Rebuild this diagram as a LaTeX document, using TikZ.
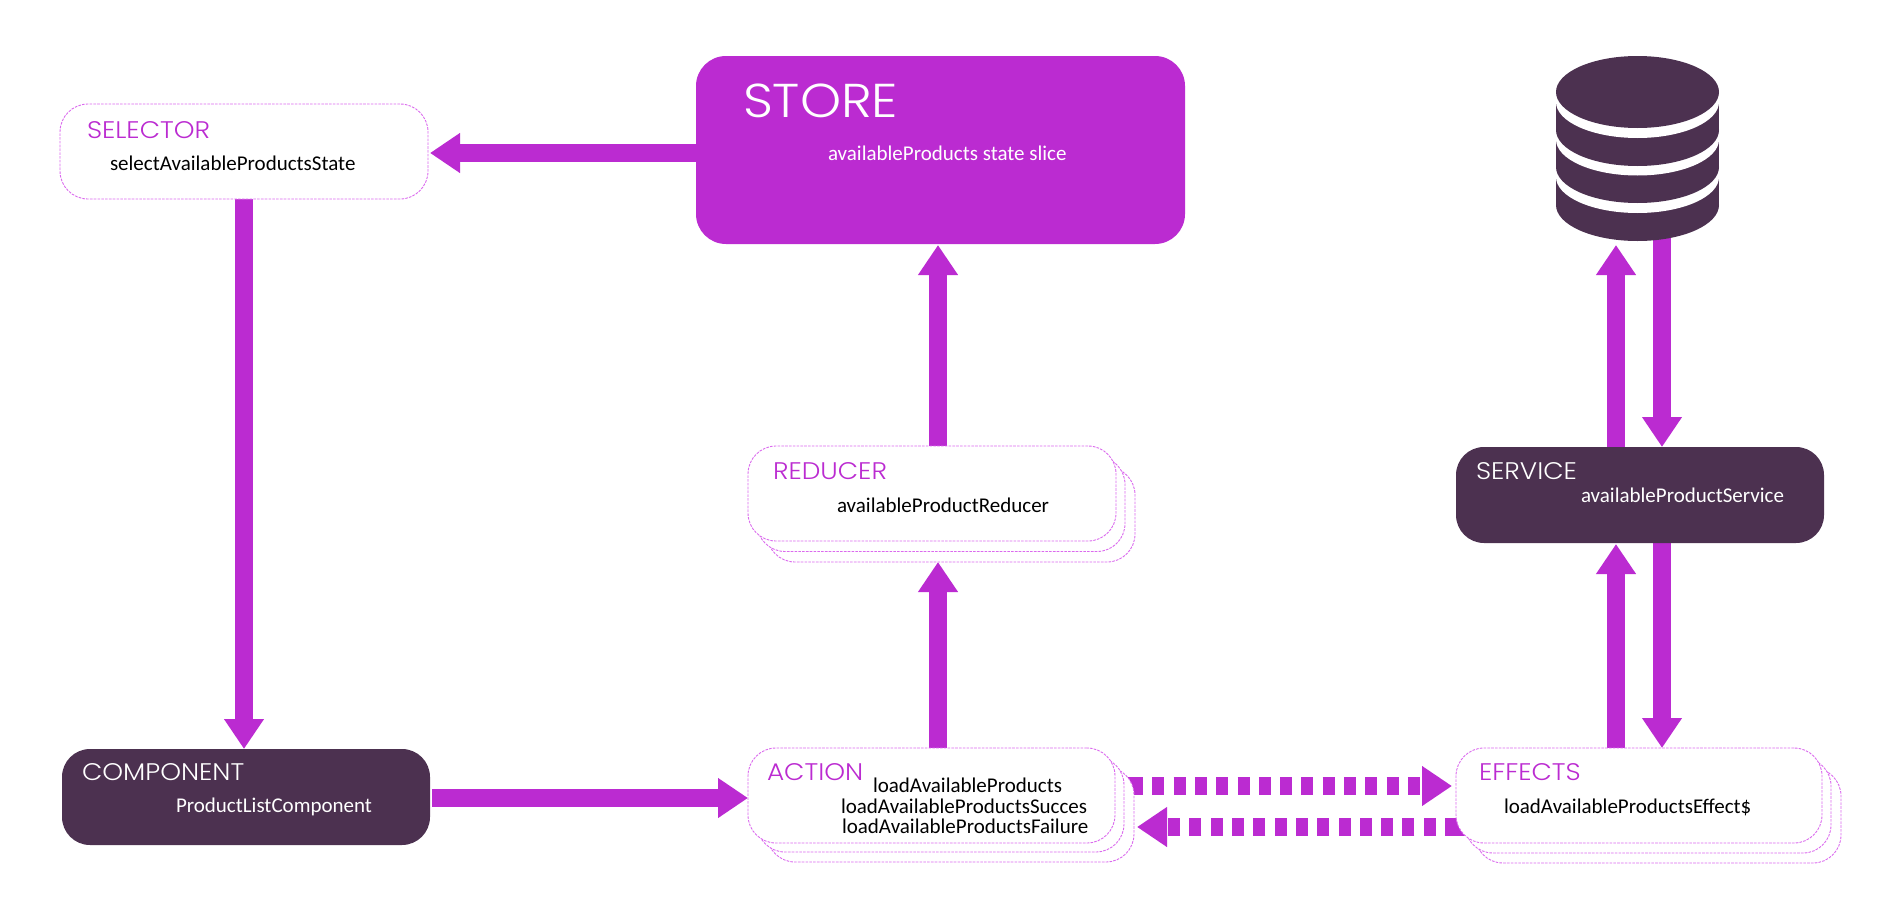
\documentclass[tikz,border=0pt]{standalone}
\usepackage{fontspec}
\usetikzlibrary{arrows.meta}
\setmainfont{Carlito}
\newfontfamily\headfont{Poppins}[UprightFont=* Light,FakeStretch=1.1]
\definecolor{magenta1}{HTML}{BB2BD1}
\definecolor{plum1}{HTML}{4C3150}
\definecolor{dashcol}{HTML}{DB6AEE}
\pgfdeclarelayer{bg}
\pgfsetlayers{bg,main}
\tikzset{
  x=1pt,y=-1pt,
  boxbase/.style={rectangle,rounded corners=28pt,inner sep=0pt,outer sep=0pt,minimum width=368pt,minimum height=95pt},
  dashbox/.style={boxbase,draw=dashcol,fill=white,line width=0.9pt,dash pattern=on 2.6pt off 1.2pt},
  plumbox/.style={boxbase,fill=plum1},
  storebox/.style={boxbase,fill=magenta1,minimum width=489pt,minimum height=188pt,rounded corners=30pt},
  headlbl/.style={anchor=base west,inner sep=0pt,outer sep=0pt,text=magenta1,font=\headfont\fontsize{24}{27}\selectfont},
  headw/.style={headlbl,text=white},
  bodylbl/.style={anchor=base west,inner sep=0pt,outer sep=0pt,text=black,font=\fontsize{21}{24}\selectfont},
  bodyw/.style={bodylbl,text=white},
  fat/.style={draw=magenta1,line width=18pt,-{Triangle[length=30pt,width=38pt]}},
  fatdash/.style={fat,dash pattern=on 21pt off 9.3pt on 12pt off 9.3pt on 12pt off 9.3pt on 12pt off 9.3pt on 12pt off 9.3pt on 12pt off 9.3pt on 12pt off 9.3pt on 12pt off 9.3pt on 12pt off 9.3pt on 12pt off 9.3pt on 12pt off 9.3pt on 12pt off 9.3pt on 12pt off 9.3pt on 12pt off 9.3pt on 40pt off 9.3pt},
  dbdark/.style={fill=plum1},
  dbgap/.style={fill=white}
}
\begin{document}
\begin{tikzpicture}
\useasboundingbox (0,0) rectangle (1896,918);
% boxes
\node[dashbox] (sel) at (244,151.5) {};
\node[storebox] (store) at (940.5,150) {};
\node[plumbox,minimum height=96pt] (comp) at (246,797) {};
\node[dashbox] (rb3) at (951,514.5) {};
\node[dashbox] (rb2) at (941,504) {};
\node[dashbox] (red) at (932,493.5) {};
\node[plumbox,minimum height=96pt] (serv) at (1640,495) {};
\node[dashbox,minimum width=367pt] (ab3) at (950.5,814.5) {};
\node[dashbox,minimum width=367pt] (ab2) at (940.5,804.5) {};
\node[dashbox,minimum width=367pt] (act) at (931.5,795.5) {};
\node[dashbox,minimum width=366pt] (eb3) at (1658,815.5) {};
\node[dashbox,minimum width=366pt] (eb2) at (1648,805.5) {};
\node[dashbox,minimum width=366pt] (eff) at (1639,795.5) {};
% database
\node[inner sep=0pt,outer sep=0pt,minimum width=163pt,minimum height=185pt] (db) at (1637.5,148.5) {};
\fill[dbdark] (1637.5,205) ellipse [x radius=81.5pt,y radius=36pt];
\fill[dbdark] (1556,177) rectangle (1719,205);
\fill[dbgap] (1637.5,177) ellipse [x radius=81.5pt,y radius=36pt];
\fill[dbdark] (1637.5,167) ellipse [x radius=81.5pt,y radius=36pt];
\fill[dbdark] (1556,139.5) rectangle (1719,167);
\fill[dbgap] (1637.5,139.5) ellipse [x radius=81.5pt,y radius=36pt];
\fill[dbdark] (1637.5,130) ellipse [x radius=81.5pt,y radius=36pt];
\fill[dbdark] (1556,102) rectangle (1719,130);
\fill[dbgap] (1637.5,102) ellipse [x radius=81.5pt,y radius=36pt];
\fill[dbdark] (1637.5,92) ellipse [x radius=81.5pt,y radius=36pt];
% labels
\node[headlbl] (tsel) at (87,138) {SELECTOR};
\node[bodylbl] (bsel) at (110,170) {selectAvailableProductsState};
\node[headw,font=\headfont\fontsize{47.5}{52}\selectfont] (tstore) at (743,117) {STORE};
\node[bodyw] (bstore) at (828,160) {availableProducts state slice};
\node[headlbl] (tred) at (773,479) {REDUCER};
\node[bodylbl] (bred) at (837,512) {availableProductReducer};
\node[headw] (tserv) at (1476,479) {SERVICE};
\node[bodyw] (bserv) at (1581,502) {availableProductService};
\node[headw] (tcomp) at (82,780) {COMPONENT};
\node[bodyw] (bcomp) at (176,812) {ProductListComponent};
\node[headlbl] (tact) at (767,780) {ACTION};
\node[bodylbl] (bact1) at (873,792) {loadAvailableProducts};
\node[bodylbl] (bact2) at (841,813) {loadAvailableProductsSucces};
\node[bodylbl] (bact3) at (842,833) {loadAvailableProductsFailure};
\node[headlbl] (teff) at (1479,780) {EFFECTS};
\node[bodylbl] (beff) at (1504,813) {loadAvailableProductsEffect\$};
% connectors
\begin{pgfonlayer}{bg}
\draw[fat,shorten >=2pt] (store.west |- 0,153) -- (sel.east |- 0,153);
\draw[fat] (sel.south) -- (comp.north -| sel.south);
\draw[fat,shorten <=2pt] (comp.east |- 0,798) -- (act.west |- 0,798);
\draw[fat] (act.north -| 938,0) -- (rb3.south -| 938,0);
\draw[fat,shorten >=1pt] (red.north -| 938,0) -- (store.south -| 938,0);
\draw[fat,shorten >=4pt] (serv.north -| 1616,0) -- (db.south -| 1616,0);
\draw[fat,shorten <=-5pt] (db.south -| 1662,0) -- (serv.north -| 1662,0);
\draw[fat,shorten >=1pt] (eff.north -| 1616,0) -- (serv.south -| 1616,0);
\draw[fat] (serv.south -| 1662,0) -- (eff.north -| 1662,0);
\draw[fatdash,shorten <=-12pt,shorten >=4pt] (ab3.east |- 0,786) -- (eff.west |- 0,786);
\draw[fatdash,shorten <=-10pt,shorten >=3pt] (eff.west |- 0,827) -- (ab3.east |- 0,827);
\end{pgfonlayer}
\end{tikzpicture}
\end{document}
